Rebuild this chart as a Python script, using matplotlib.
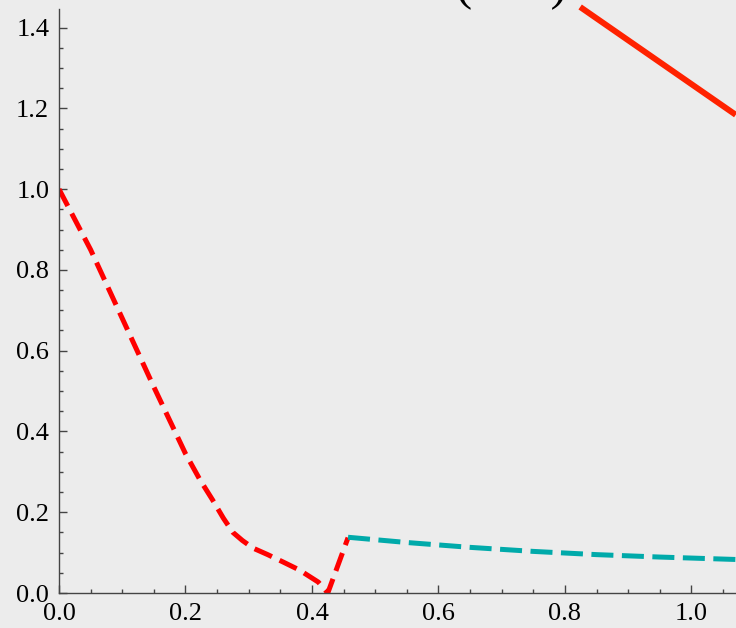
import matplotlib
matplotlib.use("Agg")
import matplotlib.pyplot as plt
from matplotlib.ticker import MultipleLocator

# red dashed branch
red_x = [0.0, 0.05, 0.10, 0.15, 0.20, 0.223, 0.243, 0.26, 0.275, 0.29, 0.307, 0.33,
         0.354, 0.38, 0.397, 0.41, 0.425, 0.457]
red_y = [1.0, 0.85, 0.68, 0.51, 0.345, 0.28, 0.23, 0.185, 0.15, 0.13, 0.111, 0.095,
         0.077, 0.057, 0.040, 0.027, 0.0, 0.137]

# cyan dashed branch
cyan_x = [0.457, 0.55, 0.65, 0.75, 0.85, 0.95, 1.07]
cyan_y = [0.138, 0.125, 0.113, 0.103, 0.095, 0.089, 0.083]

# solid red line top right
solid_x = [0.824, 1.07]
solid_y = [1.451, 1.184]

plt.rcParams["font.family"] = ["Liberation Serif", "DejaVu Serif"]

fig = plt.figure(figsize=(7.36, 6.28), dpi=100, facecolor="#ececec")
ax = fig.add_axes([59 / 736, 35 / 628, 677 / 736, 584 / 628])
ax.set_facecolor("#ececec")

line, = ax.plot(red_x, red_y, color="#ff0000", lw=3.6)
line.set_dashes((3.8, 1.7))
line.set_dash_capstyle("butt")
line2, = ax.plot(cyan_x, cyan_y, color="#00aaaa", lw=3.6)
line2.set_dashes((4.4, 1.7))
line2.set_dash_capstyle("butt")
ax.plot(solid_x, solid_y, color="#ff2200", lw=4.3, solid_capstyle="butt", clip_on=False)

ax.set_xlim(0, 1.0704)
ax.set_ylim(0, 1.446)

for s in ["top", "right"]:
    ax.spines[s].set_visible(False)
for s in ["left", "bottom"]:
    ax.spines[s].set_color("#444444")
    ax.spines[s].set_linewidth(1.0)

ax.xaxis.set_major_locator(MultipleLocator(0.2))
ax.xaxis.set_minor_locator(MultipleLocator(0.05))
ax.yaxis.set_major_locator(MultipleLocator(0.2))
ax.yaxis.set_minor_locator(MultipleLocator(0.05))
ax.xaxis.set_major_formatter(lambda v, p: f"{v:.1f}")
ax.yaxis.set_major_formatter(lambda v, p: f"{v:.1f}")
ax.tick_params(which="major", direction="in", length=5.5, width=1, color="#444444",
               labelsize=19)
ax.tick_params(which="minor", direction="in", length=3, width=1, color="#444444")
ax.tick_params(axis="y", which="major", pad=7)
ax.tick_params(axis="x", which="major", pad=7)

# cut-off label at the top of the picture
fig.text(393 / 736, 1 + 1.2 / 628, "2   (1−x)", fontsize=36, va="baseline", ha="left",
         color="black")

fig.savefig("out.png", dpi=100, facecolor=fig.get_facecolor())
